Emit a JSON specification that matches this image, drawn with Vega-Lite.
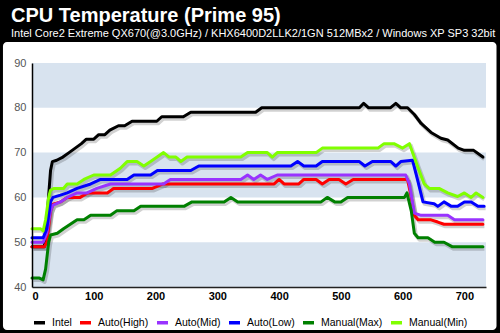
{
 "$schema": "https://vega.github.io/schema/vega-lite/v6.json",
 "width": 454, "height": 224,
 "autosize": {"type": "none"},
 "padding": {"left": 32, "top": 63, "right": 14, "bottom": 46},
 "background": "#000000",
 "config": {"view": {"stroke": null}, "font": "Liberation Sans"},
 "title": {"text": "CPU Temperature (Prime 95)", "subtitle": "Intel Core2 Extreme QX670(@3.0GHz) / KHX6400D2LLK2/1GN 512MBx2  / Windows XP SP3 32bit", "anchor": "start", "frame": "group", "color": "#ffffff", "subtitleColor": "#ffffff", "font": "Liberation Sans", "subtitleFont": "Liberation Sans", "fontSize": 20, "fontWeight": "bold", "subtitleFontSize": 11, "subtitlePadding": 2, "dx": -21, "dy": 13, "offset": 16},
 "datasets": {
  "panel": [{"x1": -47, "x2": 752, "y1": 30.4, "y2": 94.7}],
  "bands": [{"lo": 40, "hi": 50}, {"lo": 60, "hi": 70}, {"lo": 80, "hi": 90}],
  "temps": [
   {"s":"Intel","t":0,"v":49},{"s":"Intel","t":20,"v":49},{"s":"Intel","t":24,"v":55},{"s":"Intel","t":30,"v":66},{"s":"Intel","t":33,"v":68},{"s":"Intel","t":40,"v":68.3},{"s":"Intel","t":50,"v":69},{"s":"Intel","t":60,"v":70},{"s":"Intel","t":70,"v":71},{"s":"Intel","t":80,"v":72},{"s":"Intel","t":88,"v":73},{"s":"Intel","t":100,"v":73},{"s":"Intel","t":108,"v":74},{"s":"Intel","t":118,"v":74},{"s":"Intel","t":126,"v":75},{"s":"Intel","t":140,"v":76},{"s":"Intel","t":150,"v":76},{"s":"Intel","t":162,"v":77},{"s":"Intel","t":195,"v":77},{"s":"Intel","t":202,"v":77},{"s":"Intel","t":210,"v":78},{"s":"Intel","t":245,"v":78},{"s":"Intel","t":257,"v":79},{"s":"Intel","t":362,"v":79},{"s":"Intel","t":372,"v":80},{"s":"Intel","t":530,"v":80},{"s":"Intel","t":537,"v":81},{"s":"Intel","t":545,"v":80},{"s":"Intel","t":580,"v":80},{"s":"Intel","t":589,"v":81},{"s":"Intel","t":597,"v":80},{"s":"Intel","t":608,"v":80},{"s":"Intel","t":619,"v":78.5},{"s":"Intel","t":630,"v":76.5},{"s":"Intel","t":646,"v":74.5},{"s":"Intel","t":662,"v":73.2},{"s":"Intel","t":673,"v":72.8},{"s":"Intel","t":690,"v":71},{"s":"Intel","t":700,"v":70.5},{"s":"Intel","t":715,"v":70.5},{"s":"Intel","t":730,"v":69},
   {"s":"Auto(High)","t":0,"v":49},{"s":"Auto(High)","t":20,"v":49},{"s":"Auto(High)","t":24,"v":50},{"s":"Auto(High)","t":30,"v":57},{"s":"Auto(High)","t":34,"v":58.5},{"s":"Auto(High)","t":46,"v":59},{"s":"Auto(High)","t":57,"v":60},{"s":"Auto(High)","t":78,"v":60},{"s":"Auto(High)","t":90,"v":61},{"s":"Auto(High)","t":122,"v":61},{"s":"Auto(High)","t":132,"v":62},{"s":"Auto(High)","t":195,"v":62},{"s":"Auto(High)","t":212,"v":63},{"s":"Auto(High)","t":392,"v":63},{"s":"Auto(High)","t":400,"v":64},{"s":"Auto(High)","t":408,"v":63},{"s":"Auto(High)","t":432,"v":63},{"s":"Auto(High)","t":440,"v":64},{"s":"Auto(High)","t":460,"v":64},{"s":"Auto(High)","t":470,"v":63},{"s":"Auto(High)","t":481,"v":64},{"s":"Auto(High)","t":497,"v":64},{"s":"Auto(High)","t":508,"v":63},{"s":"Auto(High)","t":520,"v":64},{"s":"Auto(High)","t":608,"v":64},{"s":"Auto(High)","t":614,"v":60},{"s":"Auto(High)","t":619,"v":56},{"s":"Auto(High)","t":625,"v":55},{"s":"Auto(High)","t":646,"v":55},{"s":"Auto(High)","t":657,"v":54.5},{"s":"Auto(High)","t":667,"v":54},{"s":"Auto(High)","t":730,"v":54},
   {"s":"Auto(Mid)","t":0,"v":50},{"s":"Auto(Mid)","t":18,"v":50},{"s":"Auto(Mid)","t":24,"v":52},{"s":"Auto(Mid)","t":30,"v":57},{"s":"Auto(Mid)","t":34,"v":58.3},{"s":"Auto(Mid)","t":46,"v":59},{"s":"Auto(Mid)","t":57,"v":60},{"s":"Auto(Mid)","t":73,"v":61},{"s":"Auto(Mid)","t":89,"v":61},{"s":"Auto(Mid)","t":105,"v":62},{"s":"Auto(Mid)","t":127,"v":63},{"s":"Auto(Mid)","t":213,"v":63},{"s":"Auto(Mid)","t":224,"v":64},{"s":"Auto(Mid)","t":338,"v":64},{"s":"Auto(Mid)","t":349,"v":65},{"s":"Auto(Mid)","t":359,"v":64},{"s":"Auto(Mid)","t":370,"v":65},{"s":"Auto(Mid)","t":381,"v":64},{"s":"Auto(Mid)","t":397,"v":65},{"s":"Auto(Mid)","t":605,"v":65},{"s":"Auto(Mid)","t":611,"v":63},{"s":"Auto(Mid)","t":619,"v":56.5},{"s":"Auto(Mid)","t":630,"v":56},{"s":"Auto(Mid)","t":673,"v":56},{"s":"Auto(Mid)","t":684,"v":55},{"s":"Auto(Mid)","t":730,"v":55},
   {"s":"Auto(Low)","t":0,"v":51},{"s":"Auto(Low)","t":18,"v":51},{"s":"Auto(Low)","t":24,"v":53},{"s":"Auto(Low)","t":30,"v":59},{"s":"Auto(Low)","t":34,"v":60},{"s":"Auto(Low)","t":46,"v":60.5},{"s":"Auto(Low)","t":57,"v":61},{"s":"Auto(Low)","t":73,"v":62},{"s":"Auto(Low)","t":95,"v":63},{"s":"Auto(Low)","t":111,"v":64},{"s":"Auto(Low)","t":154,"v":64},{"s":"Auto(Low)","t":165,"v":65},{"s":"Auto(Low)","t":192,"v":65},{"s":"Auto(Low)","t":203,"v":66},{"s":"Auto(Low)","t":257,"v":66},{"s":"Auto(Low)","t":270,"v":67},{"s":"Auto(Low)","t":419,"v":67},{"s":"Auto(Low)","t":430,"v":68},{"s":"Auto(Low)","t":440,"v":67},{"s":"Auto(Low)","t":460,"v":67},{"s":"Auto(Low)","t":470,"v":68},{"s":"Auto(Low)","t":530,"v":68},{"s":"Auto(Low)","t":539,"v":67},{"s":"Auto(Low)","t":551,"v":68},{"s":"Auto(Low)","t":581,"v":68},{"s":"Auto(Low)","t":589,"v":67},{"s":"Auto(Low)","t":597,"v":68},{"s":"Auto(Low)","t":616,"v":68.3},{"s":"Auto(Low)","t":624,"v":64},{"s":"Auto(Low)","t":633,"v":59},{"s":"Auto(Low)","t":651,"v":58.6},{"s":"Auto(Low)","t":657,"v":58},{"s":"Auto(Low)","t":667,"v":59},{"s":"Auto(Low)","t":679,"v":58},{"s":"Auto(Low)","t":689,"v":58},{"s":"Auto(Low)","t":700,"v":59},{"s":"Auto(Low)","t":711,"v":59},{"s":"Auto(Low)","t":722,"v":58},{"s":"Auto(Low)","t":732,"v":58},
   {"s":"Manual(Max)","t":0,"v":42},{"s":"Manual(Max)","t":12,"v":42},{"s":"Manual(Max)","t":18,"v":41.6},{"s":"Manual(Max)","t":22,"v":44},{"s":"Manual(Max)","t":27,"v":50},{"s":"Manual(Max)","t":30,"v":51.6},{"s":"Manual(Max)","t":41,"v":52},{"s":"Manual(Max)","t":51,"v":53},{"s":"Manual(Max)","t":62,"v":54},{"s":"Manual(Max)","t":73,"v":55},{"s":"Manual(Max)","t":84,"v":55},{"s":"Manual(Max)","t":95,"v":56},{"s":"Manual(Max)","t":127,"v":56},{"s":"Manual(Max)","t":137,"v":57},{"s":"Manual(Max)","t":165,"v":57},{"s":"Manual(Max)","t":176,"v":58},{"s":"Manual(Max)","t":246,"v":58},{"s":"Manual(Max)","t":259,"v":59},{"s":"Manual(Max)","t":311,"v":59},{"s":"Manual(Max)","t":322,"v":60},{"s":"Manual(Max)","t":333,"v":59},{"s":"Manual(Max)","t":468,"v":59},{"s":"Manual(Max)","t":478,"v":60},{"s":"Manual(Max)","t":490,"v":59},{"s":"Manual(Max)","t":500,"v":59},{"s":"Manual(Max)","t":511,"v":60},{"s":"Manual(Max)","t":603,"v":60},{"s":"Manual(Max)","t":607,"v":61},{"s":"Manual(Max)","t":614,"v":57},{"s":"Manual(Max)","t":619,"v":52},{"s":"Manual(Max)","t":625,"v":51},{"s":"Manual(Max)","t":641,"v":51},{"s":"Manual(Max)","t":652,"v":50},{"s":"Manual(Max)","t":667,"v":50},{"s":"Manual(Max)","t":680,"v":49},{"s":"Manual(Max)","t":730,"v":49},
   {"s":"Manual(Min)","t":0,"v":53},{"s":"Manual(Min)","t":14,"v":53},{"s":"Manual(Min)","t":18,"v":52.5},{"s":"Manual(Min)","t":22,"v":55},{"s":"Manual(Min)","t":27,"v":60},{"s":"Manual(Min)","t":30,"v":61.6},{"s":"Manual(Min)","t":35,"v":62},{"s":"Manual(Min)","t":51,"v":62},{"s":"Manual(Min)","t":57,"v":63},{"s":"Manual(Min)","t":73,"v":63},{"s":"Manual(Min)","t":84,"v":64},{"s":"Manual(Min)","t":100,"v":65},{"s":"Manual(Min)","t":127,"v":65},{"s":"Manual(Min)","t":143,"v":66.5},{"s":"Manual(Min)","t":154,"v":68},{"s":"Manual(Min)","t":170,"v":68},{"s":"Manual(Min)","t":181,"v":67},{"s":"Manual(Min)","t":192,"v":68},{"s":"Manual(Min)","t":213,"v":70},{"s":"Manual(Min)","t":222,"v":69},{"s":"Manual(Min)","t":233,"v":69},{"s":"Manual(Min)","t":241,"v":68},{"s":"Manual(Min)","t":251,"v":69},{"s":"Manual(Min)","t":338,"v":69},{"s":"Manual(Min)","t":349,"v":70},{"s":"Manual(Min)","t":381,"v":70},{"s":"Manual(Min)","t":389,"v":69},{"s":"Manual(Min)","t":397,"v":70},{"s":"Manual(Min)","t":460,"v":70},{"s":"Manual(Min)","t":470,"v":71},{"s":"Manual(Min)","t":560,"v":71},{"s":"Manual(Min)","t":570,"v":72},{"s":"Manual(Min)","t":586,"v":72},{"s":"Manual(Min)","t":600,"v":71},{"s":"Manual(Min)","t":611,"v":72},{"s":"Manual(Min)","t":624,"v":67},{"s":"Manual(Min)","t":635,"v":63},{"s":"Manual(Min)","t":643,"v":62},{"s":"Manual(Min)","t":659,"v":62},{"s":"Manual(Min)","t":673,"v":61},{"s":"Manual(Min)","t":689,"v":60.2},{"s":"Manual(Min)","t":700,"v":61},{"s":"Manual(Min)","t":711,"v":60},{"s":"Manual(Min)","t":719,"v":61},{"s":"Manual(Min)","t":730,"v":60}
  ]
 },
 "encoding": {
  "x": {"type": "quantitative", "scale": {"domain": [0, 735], "nice": false, "zero": false}, "axis": {"values": [0,100,200,300,400,500,600,700], "title": null, "grid": false, "ticks": false, "labelFontWeight": "bold", "labelFontSize": 11, "labelColor": "#000000", "labelPadding": 3, "domainColor": "#222222", "domainWidth": 1.5, "zindex": 2, "labelFont": "Liberation Sans"}},
  "y": {"type": "quantitative", "scale": {"domain": [40, 90], "nice": false, "zero": false}, "axis": {"values": [40,50,60,70,80,90], "title": null, "grid": false, "ticks": false, "labelFontSize": 11, "labelColor": "#555555", "labelPadding": 6, "domainColor": "#000000", "domainWidth": 1.5, "zindex": 2, "labelFont": "Liberation Sans"}}
 },
 "layer": [
  {"data": {"name": "panel"}, "mark": {"type": "rect", "clip": false, "fill": "#ffffff", "cornerRadius": 4},
   "encoding": {"x": {"field": "x1", "type": "quantitative"}, "x2": {"field": "x2"}, "y": {"field": "y1", "type": "quantitative"}, "y2": {"field": "y2"}}},
  {"data": {"name": "bands"}, "mark": {"type": "rect", "fill": "#d8e3ef"},
   "encoding": {"y": {"field": "lo", "type": "quantitative"}, "y2": {"field": "hi"}}},
  {"data": {"name": "temps"}, "mark": {"type": "line", "strokeWidth": 4, "color": "#000000", "opacity": 0.18, "xOffset": 1.5, "yOffset": 2, "strokeJoin": "round"},
   "encoding": {"x": {"field": "t", "type": "quantitative"}, "y": {"field": "v", "type": "quantitative"}, "detail": {"field": "s"}}},
  {"data": {"name": "temps"}, "mark": {"type": "line", "strokeWidth": 3, "strokeJoin": "round", "strokeCap": "round"},
   "encoding": {"x": {"field": "t", "type": "quantitative"}, "y": {"field": "v", "type": "quantitative"},
    "color": {"field": "s", "type": "nominal", "sort": null,
     "scale": {"domain": ["Intel","Auto(High)","Auto(Mid)","Auto(Low)","Manual(Max)","Manual(Min)"], "range": ["#000000","#ff0000","#9933ff","#0000ff","#008000","#80ff00"]},
     "legend": {"orient": "bottom", "direction": "horizontal", "title": null, "symbolType": "stroke", "symbolStrokeWidth": 3.5, "symbolSize": 121, "labelFontSize": 10.5, "labelOffset": 5, "labelColor": "#000000", "labelFont": "Liberation Sans", "columnPadding": 1, "offset": 14, "zindex": 2}}}}
 ]
}
